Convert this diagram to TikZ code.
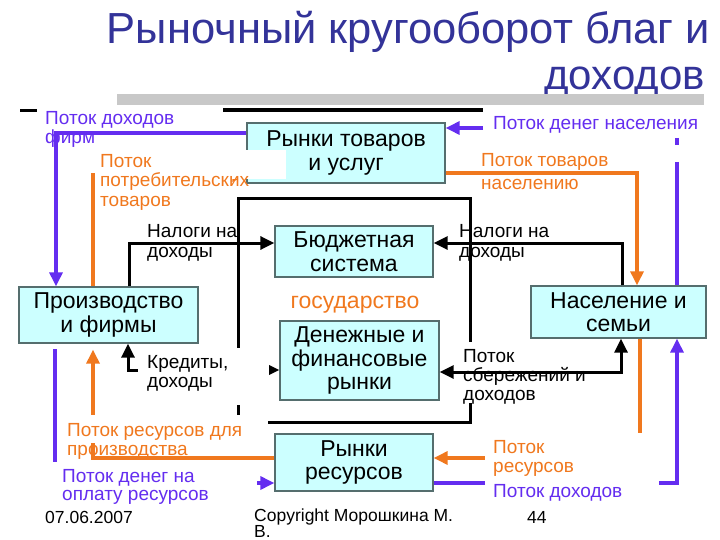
\documentclass[tikz,border=0pt]{standalone}
\usepackage{fontspec}
\setmainfont{Liberation Sans}
\usetikzlibrary{arrows.meta}
\definecolor{ttl}{RGB}{51,51,153}
\definecolor{org}{RGB}{240,120,30}
\definecolor{pur}{RGB}{100,45,240}
\definecolor{boxf}{RGB}{204,255,255}
\definecolor{boxb}{RGB}{85,110,110}
\definecolor{barg}{RGB}{200,200,200}
\begin{document}
\begin{tikzpicture}[x=1pt,y=-1pt,
  box/.style={draw=boxb, fill=boxf, line width=1.3pt, inner sep=0pt, align=center, font=\fontsize{23}{23.5}\selectfont},
  lbl/.style={anchor=base west, inner sep=0pt, font=\fontsize{19}{20}\selectfont},
  arrowhd/.style={-{Triangle[length=14pt,width=13pt]}},
  dblhd/.style={{Triangle[length=14pt,width=13pt]}-{Triangle[length=14pt,width=13pt]}},
  blk/.style={line width=3pt, draw=black},
  orl/.style={line width=3.2pt, draw=org},
  pul/.style={line width=3.2pt, draw=pur},
  cover/.style={fill=white}
]
\useasboundingbox (0,0) rectangle (720,540);

% title
\node[anchor=base east, inner sep=0pt, font=\fontsize{43.5}{44}\selectfont, text=ttl] (t1) at (710,44) {Рыночный кругооборот благ и};
\node[anchor=base east, inner sep=0pt, font=\fontsize{42}{44}\selectfont, text=ttl] (t2) at (705,90) {доходов};

% rules under title
\fill[barg] (117,94) rectangle (704,105);
\draw[line width=3.5pt] (223,110) -- (483,110);
\draw[line width=3pt] (20,111) -- (37,111);

% government frame
\coordinate (g1) at (238,199);
\coordinate (g2) at (470,199);
\coordinate (g3) at (470,422);
\coordinate (g4) at (238,422);
\draw[line width=3pt] (g4) -- (g1) -- (g2) -- (g3) -- cycle;

% boxes
\node[box, minimum width=198pt, minimum height=60pt] (rt) at (346,153) {Рынки товаров\\и услуг};
\node[box, minimum width=158pt, minimum height=51pt] (bs) at (354,251.5) {Бюджетная\\система};
\node[box, minimum width=159pt, minimum height=79pt] (dm) at (359.5,360.5) {Денежные и\\финансовые\\рынки};
\node[box, minimum width=179pt, minimum height=56pt] (pf) at (108.5,315) {Производство\\и фирмы};
\node[box, minimum width=175pt, minimum height=52pt] (ns) at (618.5,312) {Население и\\семьи};
\node[box, minimum width=158pt, minimum height=57pt] (rr) at (354,462.5) {Рынки\\ресурсов};

\node[anchor=base, inner sep=0pt, font=\fontsize{23}{24}\selectfont, text=org] (gos) at (355,308) {государство};

% black flows
\coordinate (a1) at (129,243);
\draw[blk, arrowhd] (pf.north -| a1) -- (a1) -- (a1 -| bs.west);
\coordinate (a2) at (622,243);
\draw[blk, arrowhd] (ns.north -| a2) -- (a2) -- (a2 -| bs.east);
\node[lbl] (n1a) at (147,237) {Налоги на};
\node[lbl] (n1b) at (147,257) {доходы};
\node[lbl] (n2a) at (459,237) {Налоги на};
\node[lbl] (n2b) at (459,257) {доходы};

\coordinate (a4) at (128,370);
\draw[blk, dblhd] (a4 -| dm.west) -- (a4) -- (a4 |- pf.south);
\fill[cover] (138,348) rectangle (269,405);
\node[lbl] (k1) at (147,368) {Кредиты,};
\node[lbl] (k2) at (147,387) {доходы};

\fill[cover] (460,342) rectangle (606,403);
\node[lbl] (s1) at (463,362) {Поток};
\node[lbl] (s2) at (463,381) {сбережений и};
\node[lbl] (s3) at (463,400) {доходов};
\coordinate (a3) at (621,372);
\draw[blk, dblhd] (a3 -| dm.east) -- (a3) -- (a3 |- ns.south);

% purple flows
\coordinate (b1) at (56,133);
\draw[pul, arrowhd] (b1 -| rt.west) -- (b1) -- (b1 |- pf.north);
\node[lbl, text=pur] (p1a) at (45,125) {Поток доходов};
\node[lbl, text=pur] (p1b) at (45,144) {фирм};

\coordinate (b2) at (483,128);
\draw[pul, arrowhd] (b2) -- (b2 -| rt.east);
\node[lbl, text=pur] (p2) at (493,130) {Поток денег населения};
\coordinate (b3) at (677,138);
\coordinate (b4) at (677,145);
\coordinate (b5) at (677,162);
\draw[pul] (b3) -- (b4);
\draw[pul] (b5) -- (b5 |- ns.north);

% orange top flows
\coordinate (d1) at (93,175);
\draw[orl, arrowhd] (d1 |- pf.north) -- (d1) -- (d1 -| rt.west);
\fill[cover] (95,150) rectangle (286,179);
\node[lbl, text=org] (o1a) at (100,168) {Поток};
\node[lbl, text=org] (o1b) at (100,187) {потребительских};
\node[lbl, text=org] (o1c) at (100,207) {товаров};

\coordinate (d2) at (637,173);
\draw[orl, arrowhd] (d2 -| rt.east) -- (d2) -- (d2 |- ns.north);
\node[lbl, text=org] (o2a) at (481,167) {Поток товаров};
\node[lbl, text=org] (o2b) at (481,190) {населению};

% bottom left flows
\coordinate (d4) at (93,458);
\draw[orl, arrowhd, shorten >=6pt] (d4 -| rr.west) -- (d4) -- (d4 |- pf.south);
\coordinate (c1) at (55,349);
\coordinate (c2) at (55,483);
\draw[pul, arrowhd] (c1) -- (c2) -- (c2 -| rr.west);
\fill[cover] (62,415) rectangle (268,443);
\node[lbl, text=org] (o3a) at (67,436) {Поток ресурсов для};
\node[lbl, text=org] (o3b) at (67,455) {производства};
\fill[cover] (47,462) rectangle (257,506);
\node[lbl, text=pur] (p3a) at (62,482) {Поток денег на};
\node[lbl, text=pur] (p3b) at (62,500) {оплату ресурсов};

% bottom right flows
\coordinate (c3) at (677,483);
\draw[pul, arrowhd] (c3 -| rr.east) -- (c3) -- (c3 |- ns.south);
\coordinate (d3) at (640,458);
\draw[orl, arrowhd] (d3 |- ns.south) -- (d3) -- (d3 -| rr.east);
\fill[cover] (485,433) rectangle (659,502);
\node[lbl, text=org] (o4a) at (493,453) {Поток};
\node[lbl, text=org] (o4b) at (493,472) {ресурсов};
\node[lbl, text=pur] (p4) at (493,497) {Поток доходов};

% footer
\node[lbl, font=\fontsize{17.5}{21}\selectfont] (f1) at (45,523) {07.06.2007};
\node[anchor=north west, inner sep=0pt, align=left, font=\fontsize{17.5}{16}\selectfont] (f2) at (254,508.5) {Copyright Морошкина М.\\В.};
\node[lbl, font=\fontsize{17.5}{21}\selectfont] (f3) at (527,523) {44};
\end{tikzpicture}
\end{document}
